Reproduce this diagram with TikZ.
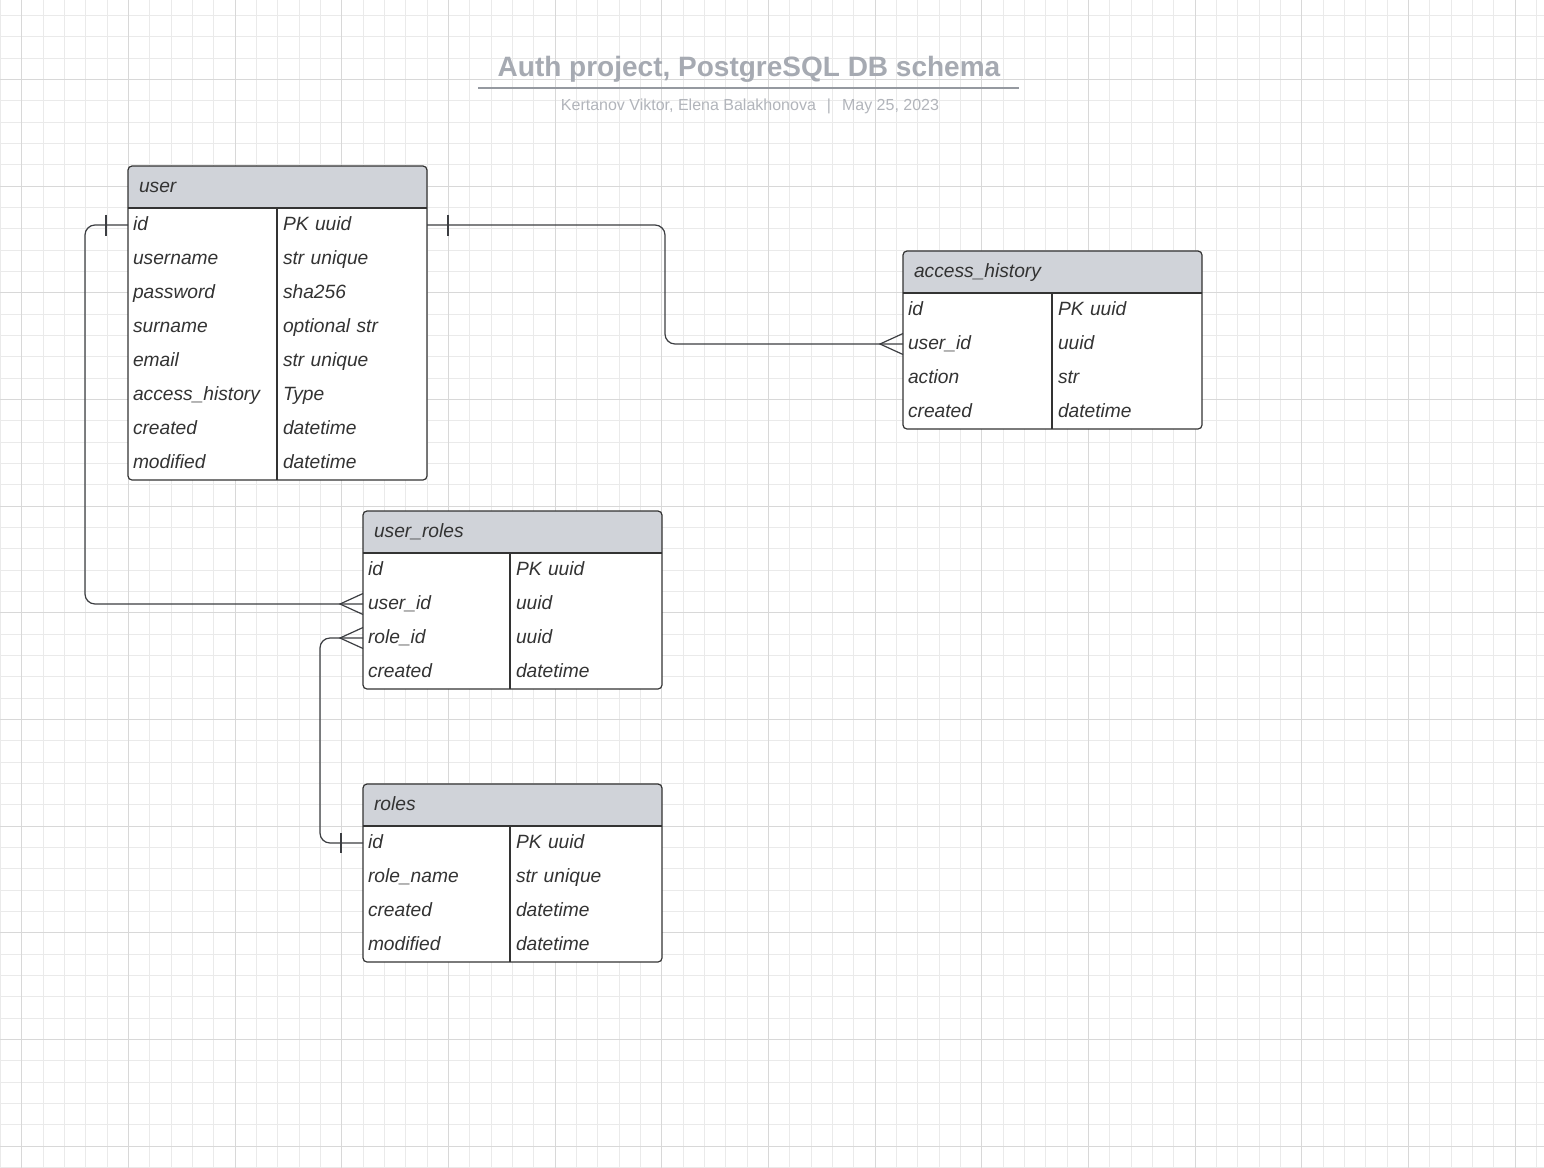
\documentclass[tikz,border=0pt]{standalone}
\usepackage{fontspec}
\setmainfont{Liberation Sans}
\usetikzlibrary{positioning,calc}
\definecolor{gridminor}{RGB}{234,234,234}
\definecolor{gridmajor}{RGB}{216,216,216}
\definecolor{headgray}{RGB}{208,211,217}
\definecolor{inkgray}{RGB}{51,51,51}
\definecolor{linegray}{RGB}{60,62,66}
\definecolor{titlegray}{RGB}{166,170,178}
\definecolor{subgray}{RGB}{178,181,187}
\pgfdeclarelayer{background}
\pgfdeclarelayer{tblfill}
\pgfsetlayers{background,tblfill,main}

\begin{document}
\begin{tikzpicture}[
  x=0.5pt, y=-0.5pt,
  font=\fontsize{9.6}{11}\selectfont\itshape,
  text=inkgray,
  hdr/.style={anchor=north west, minimum height=21pt, inner xsep=5.5pt, inner ysep=0pt, text width=138.5pt, align=left, text height=7pt, text depth=2pt, outer sep=0pt},
  fld/.style={anchor=north west, minimum height=17pt, inner xsep=2.5pt, inner ysep=0pt, text width=69.5pt, align=left, text height=7pt, text depth=2pt, outer sep=0pt},
  typ/.style={fld, inner xsep=3pt, text width=69pt},
  tblframe/.style={draw=inkgray, line width=0.6pt, rounded corners=2pt},
  rel/.style={draw=linegray, line width=0.6pt},
]
\useasboundingbox (0,0) rectangle (1544,1168);

% grid paper
\begin{pgfonlayer}{background}
  \fill[white] (0,0) rectangle (1544,1168);
  \foreach \i in {0,...,72} \draw[gridminor, line width=0.5pt] ({round(21.333*\i)},0) -- ({round(21.333*\i)},1168);
  \foreach \j in {0,...,54} \draw[gridminor, line width=0.5pt] (0,{round(15+21.333*\j)}) -- (1544,{round(15+21.333*\j)});
  \foreach \i in {0,...,14} \draw[gridmajor, line width=0.5pt] ({round(21.333+106.667*\i)},0) -- ({round(21.333+106.667*\i)},1168);
  \foreach \j in {0,...,10} \draw[gridmajor, line width=0.5pt] (0,{round(79+106.667*\j)}) -- (1544,{round(79+106.667*\j)});
\end{pgfonlayer}

% title
\node[font=\fontsize{14}{16}\selectfont\bfseries, text=titlegray] (title) at (749,69) {Auth project, PostgreSQL DB schema};
\coordinate (rulel) at (478,88);
\coordinate (ruler) at (1019,88);
\draw[titlegray!90!black, line width=0.8pt] (rulel) -- (ruler);
\node[font=\fontsize{8}{10}\selectfont\upshape, text=subgray] (subtitle) at (750,106) {Kertanov Viktor, Elena Balakhonova\hspace{5.5pt}|\hspace{5.5pt}May 25, 2023};

% user
\node[hdr] (user-hdr) at (128,166) {user};
\foreach \k/\f/\t [remember=\k as \prev (initially hdr)] in {id/id/PK uuid, username/username/str unique, password/password/sha256, surname/surname/optional str, email/email/str unique, accesshistory/access\_history/Type, created/created/datetime, modified/modified/datetime}
  {\node[fld] (user-\k) at (user-\prev.south west) {\f};
   \node[typ] (user-\k-t) at (user-\k.north east) {\t};}

% access_history
\node[hdr] (ah-hdr) at (903,251) {access\_history};
\foreach \k/\f/\t [remember=\k as \prev (initially hdr)] in {id/id/PK uuid, userid/user\_id/uuid, action/action/str, created/created/datetime}
  {\node[fld] (ah-\k) at (ah-\prev.south west) {\f};
   \node[typ] (ah-\k-t) at (ah-\k.north east) {\t};}

\begin{scope}[fld/.append style={text width=68.5pt}, typ/.append style={text width=70pt}]
% user_roles
\node[hdr] (ur-hdr) at (363,511) {user\_roles};
\foreach \k/\f/\t [remember=\k as \prev (initially hdr)] in {id/id/PK uuid, userid/user\_id/uuid, roleid/role\_id/uuid, created/created/datetime}
  {\node[fld] (ur-\k) at (ur-\prev.south west) {\f};
   \node[typ] (ur-\k-t) at (ur-\k.north east) {\t};}

% roles
\node[hdr] (roles-hdr) at (363,784) {roles};
\foreach \k/\f/\t [remember=\k as \prev (initially hdr)] in {id/id/PK uuid, rolename/role\_name/str unique, created/created/datetime, modified/modified/datetime}
  {\node[fld] (roles-\k) at (roles-\prev.south west) {\f};
   \node[typ] (roles-\k-t) at (roles-\k.north east) {\t};}
\end{scope}

% table boxes
\foreach \tb/\last in {user/modified, ah/created, ur/created, roles/modified} {
  \begin{pgfonlayer}{tblfill}
    \fill[white, rounded corners=2pt] (\tb-hdr.north west) rectangle (\tb-\last-t.south east);
    \fill[headgray, rounded corners=2pt] (\tb-hdr.north west) rectangle (\tb-hdr.south east);
    \fill[headgray] ([yshift=3pt]\tb-hdr.south west) rectangle (\tb-hdr.south east);
  \end{pgfonlayer}
  \draw[tblframe] (\tb-hdr.north west) rectangle (\tb-\last-t.south east);
  \draw[tblframe] (\tb-hdr.south west) -- (\tb-hdr.south east);
  \draw[tblframe] (\tb-id.north east) -- (\tb-\last.south east);
}

% relations
\draw[rel, rounded corners=5pt] (user-id.west) -- ++(-43,0) |- (ur-userid.west);
\draw[rel, rounded corners=5pt] (user-id-t.east) -- ++(238,0) |- (ah-userid.west);
\draw[rel, rounded corners=5pt] (roles-id.west) -- ++(-43,0) |- (ur-roleid.west);

% one ends
\draw[rel] ([xshift=-11pt,yshift=5.25pt]user-id.west) -- ([xshift=-11pt,yshift=-5.25pt]user-id.west);
\draw[rel] ([xshift=10.5pt,yshift=5.25pt]user-id-t.east) -- ([xshift=10.5pt,yshift=-5.25pt]user-id-t.east);
\draw[rel] ([xshift=-11pt,yshift=5pt]roles-id.west) -- ([xshift=-11pt,yshift=-5pt]roles-id.west);

% many ends
\foreach \n in {ur-userid, ur-roleid, ah-userid}
  \draw[rel] ([yshift=5.25pt]\n.west) -- ([xshift=-11.5pt]\n.west) -- ([yshift=-5.25pt]\n.west);
\end{tikzpicture}
\end{document}
